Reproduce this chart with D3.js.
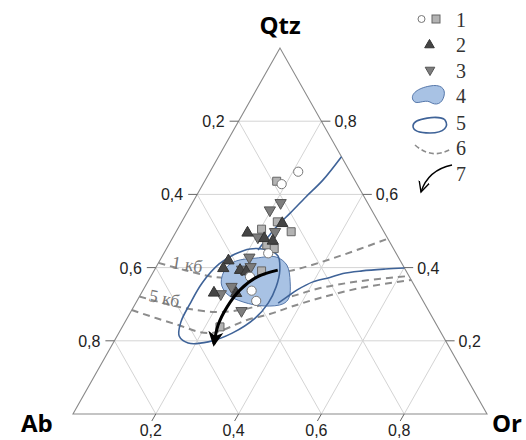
<!DOCTYPE html>
<html>
<head>
<meta charset="utf-8">
<script src="https://cdn.jsdelivr.net/npm/d3@7/dist/d3.min.js"></script>
<style>
body { margin: 0; background: #fff; }
</style>
</head>
<body>
<div id="chart"></div>
<script>
// all compositions are [Qtz, Ab, Or]
var ticks = [0.2, 0.4, 0.6, 0.8];
var tickLabels = ["0,2", "0,4", "0,6", "0,8"];

// 1 - open circles and squares
var group1Circles = [
  [0.662, 0.125, 0.213], [0.628, 0.182, 0.190], [0.439, 0.309, 0.252],
  [0.375, 0.385, 0.240], [0.337, 0.400, 0.263], [0.309, 0.403, 0.288]
];
var group1Squares = [
  [0.636, 0.190, 0.174], [0.525, 0.244, 0.231], [0.498, 0.224, 0.278],
  [0.505, 0.292, 0.203], [0.462, 0.301, 0.237], [0.452, 0.288, 0.260],
  [0.391, 0.349, 0.260], [0.238, 0.526, 0.236]
];
// 2 - up triangles
var group2 = [
  [0.521, 0.234, 0.245], [0.495, 0.331, 0.174], [0.480, 0.298, 0.222],
  [0.473, 0.281, 0.246], [0.419, 0.415, 0.166], [0.398, 0.438, 0.164],
  [0.393, 0.400, 0.207], [0.389, 0.387, 0.224], [0.331, 0.494, 0.175],
  [0.330, 0.441, 0.229]
];
// 3 - down triangles
var group3 = [
  [0.577, 0.210, 0.213], [0.557, 0.246, 0.197], [0.483, 0.312, 0.205],
  [0.498, 0.263, 0.239], [0.428, 0.360, 0.212], [0.395, 0.394, 0.211],
  [0.402, 0.370, 0.228], [0.348, 0.443, 0.209], [0.328, 0.479, 0.193],
  [0.282, 0.452, 0.266]
];
// 4 - filled field
var field4 = [
  [0.358, 0.463, 0.179], [0.399, 0.431, 0.170], [0.418, 0.397, 0.185],
  [0.426, 0.345, 0.229], [0.429, 0.295, 0.276], [0.407, 0.280, 0.313],
  [0.361, 0.295, 0.344], [0.317, 0.320, 0.363], [0.301, 0.342, 0.357],
  [0.295, 0.389, 0.316], [0.306, 0.436, 0.258], [0.328, 0.464, 0.208]
];
// 5 - outlined field and its two branches
var field5 = [
  [0.451, 0.347, 0.202], [0.448, 0.305, 0.247], [0.432, 0.289, 0.279],
  [0.393, 0.304, 0.303], [0.347, 0.336, 0.317], [0.303, 0.377, 0.320],
  [0.262, 0.429, 0.309], [0.221, 0.505, 0.274], [0.197, 0.575, 0.228],
  [0.194, 0.625, 0.181], [0.213, 0.637, 0.150], [0.251, 0.614, 0.135],
  [0.301, 0.567, 0.132], [0.358, 0.509, 0.133], [0.410, 0.442, 0.148],
  [0.437, 0.390, 0.173]
];
var branchUpper = [
  [0.703, 0.000, 0.297], [0.639, 0.077, 0.284], [0.593, 0.141, 0.266],
  [0.549, 0.201, 0.250], [0.516, 0.247, 0.237], [0.486, 0.284, 0.230],
  [0.448, 0.329, 0.223]
];
var branchLower = [
  [0.399, 0.000, 0.601], [0.396, 0.048, 0.556], [0.391, 0.106, 0.503],
  [0.384, 0.156, 0.460], [0.373, 0.193, 0.434], [0.361, 0.240, 0.399],
  [0.339, 0.289, 0.372], [0.320, 0.323, 0.357], [0.303, 0.353, 0.344]
];
// 6 - cotectics
var cotectic1kb = [
  [0.413, 0.587, 0.000], [0.393, 0.533, 0.074], [0.374, 0.470, 0.156],
  [0.372, 0.386, 0.242], [0.393, 0.272, 0.335], [0.432, 0.139, 0.429],
  [0.479, 0.000, 0.521]
];
var cotectic5kb = [
  [0.321, 0.679, 0.000], [0.292, 0.596, 0.112], [0.279, 0.518, 0.203],
  [0.284, 0.455, 0.261], [0.320, 0.316, 0.364], [0.344, 0.231, 0.425],
  [0.363, 0.125, 0.512], [0.377, 0.000, 0.623]
];
var cotecticLow = [
  [0.284, 0.716, 0.000], [0.246, 0.631, 0.123], [0.221, 0.559, 0.220],
  [0.257, 0.451, 0.292], [0.273, 0.388, 0.339], [0.292, 0.330, 0.378],
  [0.317, 0.245, 0.438], [0.344, 0.135, 0.521], [0.366, 0.000, 0.634]
];
// 7 - trend
var trend = [
  [0.393, 0.309, 0.298], [0.374, 0.369, 0.257], [0.339, 0.427, 0.234],
  [0.292, 0.482, 0.226], [0.243, 0.528, 0.229], [0.191, 0.564, 0.245]
];

var width = 526, height = 440;

var svg = d3.select("#chart").append("svg")
  .attr("width", width)
  .attr("height", height)
  .style("font-family", "'Liberation Sans', Arial, sans-serif");

var xScale = d3.scaleLinear().domain([0, 1]).range([73, 487]);
var yScale = d3.scaleLinear().domain([0, 1]).range([414, 48]);

function px(d) { return xScale(d[2] + d[0] / 2); }
function py(d) { return yScale(d[0]); }

var defs = svg.append("defs");
defs.append("marker")
  .attr("id", "head")
  .attr("viewBox", "0 -6 12 12")
  .attr("refX", 9).attr("refY", 0)
  .attr("markerWidth", 5.5).attr("markerHeight", 5.5)
  .attr("markerUnits", "strokeWidth")
  .attr("orient", "auto")
  .append("path")
  .attr("d", "M0,-5.5L11,0L0,5.5L3,0Z")
  .attr("fill", "#000");
defs.append("marker")
  .attr("id", "headThin")
  .attr("viewBox", "0 -6 12 12")
  .attr("refX", 10).attr("refY", 0)
  .attr("markerWidth", 9).attr("markerHeight", 9)
  .attr("markerUnits", "strokeWidth")
  .attr("orient", "auto")
  .append("path")
  .attr("d", "M0,-5L10,0L0,5")
  .attr("fill", "none")
  .attr("stroke", "#000")
  .attr("stroke-width", 1.3);

// grid lines
var grid = svg.append("g");
ticks.forEach(function(t) {
  var lines = [
    [[t, 1 - t, 0], [t, 0, 1 - t]],          // const Qtz
    [[0, 1 - t, t], [1 - t, 0, t]],          // const Or
    [[0, t, 1 - t], [1 - t, t, 0]]           // const Ab
  ];
  lines.forEach(function(l) {
    grid.append("line")
      .attr("x1", px(l[0])).attr("y1", py(l[0]))
      .attr("x2", px(l[1])).attr("y2", py(l[1]))
      .attr("stroke", "#d4d4d4").attr("stroke-width", 1);
  });
});

// triangle frame
var corners = [[1, 0, 0], [0, 1, 0], [0, 0, 1]];
svg.append("path")
  .attr("d", d3.line().x(px).y(py)(corners) + "Z")
  .attr("fill", "none").attr("stroke", "#8a8a8a").attr("stroke-width", 1.1);

// ticks and tick labels
var axes = svg.append("g").attr("font-size", 16).attr("fill", "#222");
ticks.forEach(function(t, i) {
  // left: Ab
  var L = [t, 1 - t, 0];
  axes.append("line").attr("x1", px(L) - 9).attr("y1", py(L)).attr("x2", px(L)).attr("y2", py(L))
    .attr("stroke", "#666");
  axes.append("text").attr("x", px(L) - 14).attr("y", py(L) + 6)
    .attr("text-anchor", "end").text(tickLabels[3 - i]);
  // right: Qtz
  var R = [t, 0, 1 - t];
  axes.append("line").attr("x1", px(R)).attr("y1", py(R)).attr("x2", px(R) + 9).attr("y2", py(R))
    .attr("stroke", "#666");
  axes.append("text").attr("x", px(R) + 13).attr("y", py(R) + 6)
    .attr("text-anchor", "start").text(tickLabels[i]);
  // bottom: Or
  var B = [0, 1 - t, t];
  axes.append("line").attr("x1", px(B)).attr("y1", py(B)).attr("x2", px(B) - 4).attr("y2", py(B) + 7)
    .attr("stroke", "#666");
  axes.append("text").attr("x", px(B) - 5).attr("y", py(B) + 22)
    .attr("text-anchor", "middle").text(tickLabels[i]);
});

// vertex labels
var vl = svg.append("g").attr("font-family", "'Open Sans', sans-serif")
  .attr("font-weight", "bold").attr("font-size", 24).attr("fill", "#000");
vl.append("text").attr("x", px(corners[0])).attr("y", 34).attr("text-anchor", "middle").text("Qtz");
vl.append("text").attr("x", 21).attr("y", 432).text("Ab");
vl.append("text").attr("x", 492).attr("y", 432).text("Or");

var openLine = d3.line().x(px).y(py).curve(d3.curveCatmullRom.alpha(0.5));
var closedLine = d3.line().x(px).y(py).curve(d3.curveCatmullRomClosed.alpha(0.5));

// 6 - dashed cotectics
svg.selectAll(".cot")
  .data([cotectic1kb, cotectic5kb, cotecticLow])
  .enter().append("path")
  .attr("d", openLine)
  .attr("fill", "none")
  .attr("stroke", "#8c8c8c")
  .attr("stroke-width", 2)
  .attr("stroke-dasharray", "7,5");

// pressure labels
var serif = "'Liberation Serif', 'DejaVu Serif', serif";
svg.append("text").attr("font-family", serif).attr("font-size", 18).attr("fill", "#777")
  .attr("transform", "translate(171,268) rotate(9)").text("1 кб");
svg.append("text").attr("font-family", serif).attr("font-size", 18).attr("fill", "#777")
  .attr("transform", "translate(148,301) rotate(12)").text("5 кб");

// 4 - filled field
svg.append("path")
  .attr("d", closedLine(field4))
  .attr("fill", "#a8c2e4")
  .attr("stroke", "#5577aa")
  .attr("stroke-width", 1);

// 5 - outlined field
svg.append("path")
  .attr("d", closedLine(field5))
  .attr("fill", "none")
  .attr("stroke", "#3f6398")
  .attr("stroke-width", 1.6);
svg.selectAll(".branch")
  .data([branchUpper, branchLower])
  .enter().append("path")
  .attr("d", openLine)
  .attr("fill", "none")
  .attr("stroke", "#3f6398")
  .attr("stroke-width", 1.6);

// points
svg.selectAll(".sq").data(group1Squares).enter().append("path")
  .attr("d", d3.symbol().type(d3.symbolSquare).size(64)())
  .attr("transform", function(d) { return "translate(" + px(d) + "," + py(d) + ")"; })
  .attr("fill", "#b3b3b3").attr("stroke", "#666").attr("stroke-width", 1);
svg.selectAll(".dn").data(group3).enter().append("path")
  .attr("d", d3.symbol().type(d3.symbolTriangle).size(55)())
  .attr("transform", function(d) { return "translate(" + px(d) + "," + py(d) + ") rotate(180)"; })
  .attr("fill", "#7d7d7d").attr("stroke", "#555").attr("stroke-width", 1);
svg.selectAll(".up").data(group2).enter().append("path")
  .attr("d", d3.symbol().type(d3.symbolTriangle).size(55)())
  .attr("transform", function(d) { return "translate(" + px(d) + "," + py(d) + ")"; })
  .attr("fill", "#454545").attr("stroke", "#333").attr("stroke-width", 1);
svg.selectAll(".ci").data(group1Circles).enter().append("circle")
  .attr("cx", px).attr("cy", py).attr("r", 4.6)
  .attr("fill", "#fff").attr("stroke", "#777").attr("stroke-width", 1);

// 7 - trend arrow
svg.append("path")
  .attr("d", openLine(trend))
  .attr("fill", "none")
  .attr("stroke", "#000")
  .attr("stroke-width", 3)
  .attr("marker-end", "url(#head)");

// legend
var lg = svg.append("g");
lg.append("circle").attr("cx", 421.5).attr("cy", 19).attr("r", 3.5)
  .attr("fill", "#fff").attr("stroke", "#777");
lg.append("rect").attr("x", 432).attr("y", 15).attr("width", 8).attr("height", 8)
  .attr("fill", "#b3b3b3").attr("stroke", "#666");
lg.append("path").attr("d", d3.symbol().type(d3.symbolTriangle).size(40)())
  .attr("transform", "translate(429.5,45)").attr("fill", "#454545").attr("stroke", "#333");
lg.append("path").attr("d", d3.symbol().type(d3.symbolTriangle).size(40)())
  .attr("transform", "translate(430,70) rotate(180)").attr("fill", "#7d7d7d").attr("stroke", "#555");
lg.append("path")
  .attr("d", "M413,100C410,94 418,88 430,86C440,84 446,88 444,96C442,104 436,106 430,102C424,99 416,106 413,100Z")
  .attr("fill", "#a8c2e4").attr("stroke", "#5577aa");
lg.append("path")
  .attr("d", "M413,126C413,118 440,115 445,120C449,126 445,133 430,133C418,133 413,131 413,126Z")
  .attr("fill", "none").attr("stroke", "#3f6398").attr("stroke-width", 1.6);
lg.append("path")
  .attr("d", "M415,145Q432,160 451,149")
  .attr("fill", "none").attr("stroke", "#8c8c8c").attr("stroke-width", 1.6)
  .attr("stroke-dasharray", "5,3");
lg.append("path")
  .attr("d", "M452,165Q428,170 421,192")
  .attr("fill", "none").attr("stroke", "#000").attr("stroke-width", 1.4)
  .attr("marker-end", "url(#headThin)");
var legendLabels = ["1", "2", "3", "4", "5", "6", "7"];
var legendY = [26.5, 52, 77.5, 103, 130, 155, 181];
lg.selectAll(".ll").data(legendLabels).enter().append("text")
  .attr("x", 456).attr("y", function(d, i) { return legendY[i]; })
  .attr("font-family", serif).attr("font-size", 20).attr("fill", "#333")
  .text(function(d) { return d; });
</script>
</body>
</html>
